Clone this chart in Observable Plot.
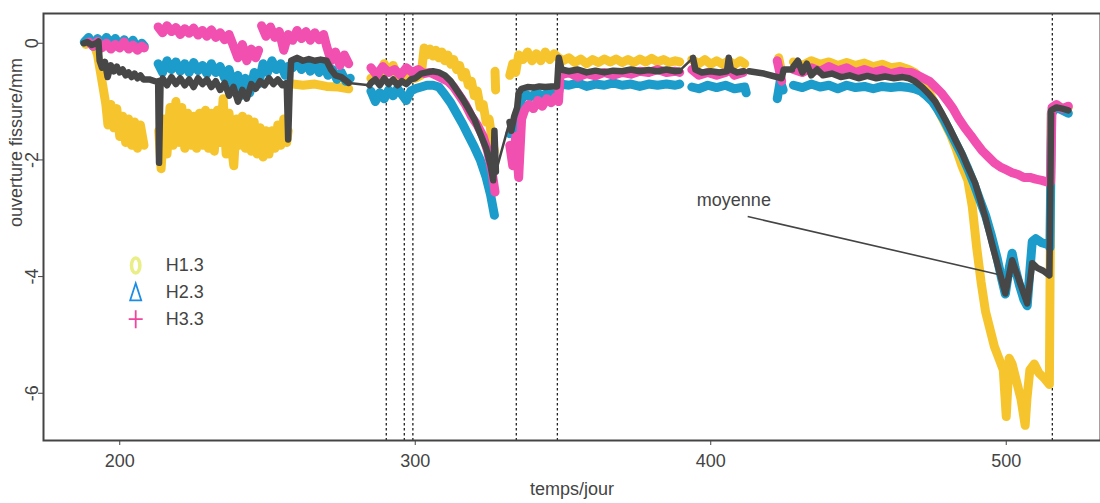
<!DOCTYPE html>
<html>
<head>
<meta charset="utf-8">
<script src="https://cdn.jsdelivr.net/npm/d3@7"></script>
<script src="https://cdn.jsdelivr.net/npm/@observablehq/plot@0.6"></script>
<style>
  html, body { margin: 0; padding: 0; background: #fff; }
  #chart { width: 1100px; height: 503px; }
</style>
</head>
<body>
<div id="chart"></div>
<script>
const G = NaN; // gap marker (breaks a line)

// H1.3 (yellow) : [jour, ouverture/mm]
const h13 = [
  [188.5,-0.02],[190,0.03],[191.5,-0.05],[192.5,-0.2],[193.5,-0.5],[194.5,-0.8],[195.3,-1.05],[196,-1.4],[197,-1.05],[198,-1.45],[199,-1.12],[200,-1.6],[201,-1.25],[202,-1.7],[203,-1.3],[204,-1.75],[205,-1.35],[206,-1.8],[207,-1.4],[208.2,-1.75],[208.5,G],
  [213.2,-1.5],[214,-2.15],[215,-1.3],[216,-1.9],[217,-1.1],[218,-1.75],[219,-1.0],[220,-1.7],[221,-1.1],[222,-1.8],[223,-1.2],[224,-1.75],[225,-1.25],[226,-1.8],[227,-1.2],[228,-1.75],[229,-1.15],[230,-1.8],[231,-1.2],[232,-1.85],[233,-1.15],[234,-1.7],[235,-0.95],[236,-1.9],[237,-1.2],[238,-1.85],[238.6,-2.1],[239.5,-1.3],[240.5,-1.75],[241.5,-1.25],[242.5,-1.8],[243.5,-1.3],[244.5,-1.85],[245.5,-1.35],[246.5,-1.9],[247.5,-1.45],[248.5,-1.95],[249.5,-1.5],[250.5,-1.9],[251.5,-1.5],[252.5,-1.8],[253.5,-1.4],[254.5,-1.75],[255.5,-1.3],[256.5,-1.7],[257,-1.5],[257.5,G],
  [258.5,-0.7],[262,-0.72],[266,-0.7],[270,-0.74],[274,-0.75],[277.5,-0.78],[278,G],
  [285,-0.6],[288,-0.55],[289.5,-0.35],[291,-0.5],[292.5,-0.38],[294,-0.55],[296,-0.6],[298,-0.6],[300,-0.6],[302,-0.55],
  [303,-0.08],[304,-0.2],[305,-0.1],[306,-0.22],[307,-0.12],[308,-0.25],[309,-0.15],[310,-0.3],[311,-0.2],[312,-0.36],[313,-0.28],[314,-0.45],[315,-0.38],[316,-0.58],[317,-0.5],[318,-0.72],[319,-0.65],[320,-0.9],[321,-0.82],[322,-1.1],[323,-1.05],[324,-1.35],[325,-1.3],[326,-1.65],[326.8,-1.85],[326.9,G],
  [327.0,-0.48],[327.2,-0.8],[327.3,G],
  [332,-0.55],[333,-0.35],[334,-0.5],[335,-0.2],[336.5,-0.28],[338,-0.15],[339.5,-0.3],[341,-0.18],[342.5,-0.3],[344,-0.15],[345.5,-0.28],[347,-0.18],[348.5,-0.25],[350,-0.3],[352,-0.25],[354,-0.33],[356,-0.27],[358,-0.35],[360,-0.28],[362,-0.33],[364,-0.27],[366,-0.32],[368,-0.27],[370,-0.33],[372,-0.28],[374,-0.33],[376,-0.27],[378,-0.32],[380,-0.26],[382,-0.32],[384,-0.28],[386,-0.33],[388,-0.3],[389.5,-0.32],[390,G],
  [393.6,-0.28],[396,-0.35],[398,-0.28],[400,-0.36],[402,-0.3],[404,-0.36],[406,-0.3],[408,-0.37],[410,-0.3],[411.5,-0.35],[412,G],
  [423,-0.25],[424,-0.5],[424.5,G],
  [428,-0.32],[431,-0.38],[434,-0.3],[437,-0.36],[440,-0.32],[443,-0.38],[446,-0.33],[449,-0.38],[452,-0.34],[455,-0.4],[458,-0.36],[461,-0.42],[464,-0.4],[467,-0.45],[469,-0.5],[471,-0.6],[473,-0.75],[475,-0.95],[477,-1.15],[479,-1.35],[481,-1.55],[483,-1.8],[485,-2.1],[487,-2.35],[488.5,-2.8],[490,-3.5],[491.5,-4.1],[493,-4.6],[494.5,-4.9],[496,-5.2],[497.5,-5.4],[499,-5.6],[500,-6.4],[500.5,-5.9],[501,-5.4],[502,-5.5],[503.5,-5.8],[505,-6.1],[506.4,-6.55],[507,-6.1],[508,-5.6],[509.5,-5.5],[511,-5.65],[513,-5.75],[514.6,-5.85],[515.2,-1.2],[517,-1.1],[519,-1.12],[521,-1.1]
];

// H2.3 (blue)
const h23 = [
  [188,0.02],[189.5,0.1],[191,-0.05],[192.5,0.08],[194,-0.02],[195.5,0.1],[197,0.0],[198.5,0.08],[200,-0.05],[201.5,0.06],[203,-0.05],[204.5,0.05],[206,-0.1],[207.5,0.0],[208.3,-0.05],[208.5,G],
  [213,-0.35],[214.5,-0.5],[216,-0.3],[217.5,-0.45],[219,-0.32],[220.5,-0.48],[222,-0.35],[223.5,-0.5],[225,-0.33],[226.5,-0.47],[228,-0.38],[229.5,-0.52],[231,-0.35],[232.5,-0.5],[234,-0.4],[235.5,-0.6],[237,-0.45],[238.5,-0.75],[240,-0.55],[241,-0.9],[242.5,-0.6],[244,-0.85],[245.5,-0.5],[247,-0.7],[248.5,-0.35],[250,-0.5],[251.5,-0.3],[253,-0.45],[254.5,-0.35],[256,-0.55],[257,-0.4],[258.5,-0.42],[260,-0.3],[261.5,-0.45],[263,-0.32],[264.5,-0.48],[266,-0.35],[267.5,-0.5],[269,-0.38],[270.5,-0.55],[272,-0.45],[273.5,-0.62],[275,-0.5],[276.5,-0.65],[278,-0.6],[278.5,G],
  [285,-0.82],[286.5,-1.0],[288,-0.85],[289.5,-0.95],[291,-0.8],[292.5,-0.9],[294,-0.78],[295.5,-0.88],[297,-0.98],[298.5,-0.82],[300,-0.78],[302,-0.75],[304,-0.72],[306,-0.72],[308,-0.75],[310,-0.88],[312,-1.02],[314,-1.2],[316,-1.38],[318,-1.58],[320,-1.78],[322,-2.0],[324,-2.3],[325.5,-2.6],[326.8,-2.95],[327,G],
  [332,-1.55],[333.5,-1.45],[335,-1.2],[336,-0.95],[337.5,-0.88],[339,-0.92],[341,-0.85],[343,-0.9],[345,-0.85],[347,-0.88],[348.5,-0.85],[349,-0.7],[352,-0.72],[355,-0.68],[358,-0.74],[361,-0.7],[364,-0.72],[367,-0.68],[370,-0.72],[373,-0.7],[376,-0.74],[379,-0.7],[382,-0.72],[385,-0.7],[388,-0.72],[389.5,-0.7],[390,G],
  [393.6,-0.75],[396,-0.78],[399,-0.72],[402,-0.76],[405,-0.72],[408,-0.78],[411.5,-0.75],[412,-0.85],[412.5,G],
  [422.5,-0.95],[423.5,-0.65],[424.5,-0.8],[425,G],
  [428,-0.72],[431,-0.76],[434,-0.7],[437,-0.75],[440,-0.72],[443,-0.78],[446,-0.72],[449,-0.76],[452,-0.74],[455,-0.78],[458,-0.74],[461,-0.76],[464,-0.74],[467,-0.76],[469,-0.78],[471,-0.82],[473,-0.9],[475,-1.0],[477,-1.15],[479,-1.32],[481,-1.52],[483,-1.72],[485,-1.92],[487,-2.15],[489,-2.4],[491,-2.68],[493,-2.95],[495,-3.3],[497,-3.7],[498.5,-4.05],[499.7,-4.3],[501,-3.85],[502,-3.6],[503,-3.85],[504.5,-4.15],[506,-4.4],[507.1,-4.5],[508,-3.9],[508.8,-3.4],[510,-3.35],[512,-3.42],[514,-3.45],[514.8,-3.5],[515.3,-1.2],[517,-1.1],[519,-1.15],[521,-1.2]
];

// H3.3 (magenta)
const h33 = [
  [189.5,0.02],[191,-0.05],[192.5,0.03],[194,-0.08],[195.5,0.0],[197,-0.1],[198.5,-0.02],[200,-0.08],[201.5,0.02],[203,-0.1],[204.5,-0.03],[206,-0.12],[207.5,-0.05],[208.3,-0.08],[208.5,G],
  [213,0.28],[214.5,0.18],[216,0.3],[217.5,0.2],[219,0.27],[220.5,0.15],[222,0.25],[223.5,0.17],[225,0.26],[226.5,0.14],[228,0.22],[229.5,0.12],[231,0.23],[232.5,0.1],[234,0.18],[235.5,0.06],[237,0.15],[238.5,-0.05],[240,-0.25],[241.5,-0.02],[243,-0.3],[244.5,-0.1],[246,-0.25],[247,-0.12],[247.4,G],
  [248,0.3],[249.5,0.12],[251,0.28],[252.5,0.1],[254,0.2],[255.5,-0.12],[257,0.15],[258.5,0.05],[260,0.22],[261.5,0.08],[263,0.2],[264.5,0.05],[266,0.18],[267.5,0.06],[269,0.15],[270,-0.05],[271.5,-0.3],[273,-0.15],[274.5,-0.38],[276,-0.2],[277.5,-0.35],[278,G],
  [285,-0.42],[287,-0.55],[289,-0.4],[291,-0.5],[293,-0.45],[295,-0.55],[297,-0.42],[299,-0.5],[301,-0.45],[303,-0.52],[305,-0.5],[307,-0.55],[309,-0.6],[311,-0.65],[313,-0.75],[315,-0.9],[317,-1.05],[319,-1.25],[321,-1.4],[323,-1.6],[324.5,-1.85],[326,-2.2],[327,-2.55],[327.5,G],
  [332,-1.75],[333,-2.1],[334,-1.6],[335,-2.3],[336,-1.3],[337,-1.15],[338.5,-1.05],[340,-1.12],[341.5,-0.98],[343,-1.08],[344.5,-0.95],[346,-1.02],[347.5,-0.92],[348.5,-1.0],[349,-0.55],[352,-0.5],[355,-0.58],[358,-0.52],[361,-0.56],[364,-0.5],[367,-0.55],[370,-0.5],[373,-0.53],[376,-0.48],[379,-0.5],[382,-0.45],[385,-0.5],[388,-0.48],[389.5,-0.5],[390,G],
  [393.6,-0.45],[396,-0.55],[399,-0.5],[402,-0.55],[405,-0.5],[406.5,-0.45],[408,-0.55],[411,-0.5],[411.5,G],
  [422.5,-0.3],[424,-0.65],[424.5,G],
  [428,-0.45],[431,-0.5],[434,-0.42],[437,-0.48],[440,-0.4],[443,-0.47],[446,-0.42],[449,-0.5],[452,-0.45],[455,-0.5],[458,-0.46],[461,-0.52],[464,-0.48],[466,-0.5],[468,-0.5],[470,-0.55],[472,-0.6],[474,-0.65],[476,-0.75],[478,-0.85],[480,-0.98],[482,-1.12],[484,-1.3],[486,-1.45],[488,-1.58],[490,-1.72],[492,-1.85],[494,-1.95],[496,-2.05],[498,-2.12],[500,-2.17],[502,-2.22],[504,-2.25],[506,-2.3],[508,-2.3],[510,-2.33],[512,-2.35],[514,-2.38],[515,-2.38],[515.5,-1.1],[517,-1.05],[519,-1.12],[521,-1.08]
];

// moyenne (dark grey)
const moyenne = [
  [187.8,0.0],[189,0.02],[190.5,-0.03],[192,0.0],[192.8,0.03],[193.2,-0.3],[194,-0.42],[195,-0.32],[195.9,-0.58],[197,-0.38],[198,-0.48],[199,-0.4],[200,-0.5],[201,-0.45],[202,-0.55],[203,-0.5],[204,-0.58],[205,-0.52],[206,-0.6],[207,-0.55],[208,-0.62],[210,-0.62],[212.5,-0.66],
  [213,-0.65],[213.3,-2.05],[213.8,-0.7],[214.5,-0.6],[216,-0.72],[217.5,-0.58],[219,-0.7],[220.5,-0.6],[222,-0.72],[223.5,-0.62],[225,-0.75],[226.5,-0.6],[228,-0.7],[229.5,-0.62],[231,-0.75],[232.5,-0.65],[234,-0.8],[235.5,-0.68],[237,-0.9],[238.5,-0.75],[240,-1.0],[241.5,-0.8],[243,-0.95],[244.5,-0.7],[246,-0.78],[247.5,-0.65],[249,-0.72],[250.5,-0.6],[252,-0.7],[253.5,-0.62],[255,-0.72],[256.5,-0.68],[257,-1.65],[257.5,-0.8],[258,-0.3],[260,-0.25],[262,-0.3],[264,-0.27],[266,-0.3],[268,-0.28],[270,-0.3],[271.5,-0.45],[273,-0.55],[275,-0.58],[277.5,-0.68],[278,G],
  [284.5,-0.72],[285,-0.68],[286.5,-0.62],[288,-0.72],[289.5,-0.6],[291,-0.7],[292.5,-0.62],[294,-0.72],[295.5,-0.65],[297,-0.7],[298.5,-0.62],[300,-0.6],[302,-0.52],[304,-0.5],[306,-0.48],[308,-0.5],[310,-0.55],[312,-0.65],[314,-0.8],[316,-0.95],[318,-1.12],[320,-1.3],[322,-1.55],[324,-1.8],[325.5,-2.1],[326.4,-2.35],[326.8,-1.5],[327.3,-2.2],[327.6,G],
  [331.9,-1.35],[332.5,-1.5],[333.5,-1.25],[334.5,-1.1],[335,-0.85],[336,-0.78],[338,-0.75],[340,-0.76],[342,-0.74],[344,-0.75],[346,-0.74],[348,-0.74],[348.5,-0.3],[348.6,-0.25],[349.5,-0.45],[352,-0.48],[355,-0.45],[358,-0.5],[361,-0.47],[364,-0.5],[367,-0.47],[370,-0.48],[373,-0.45],[376,-0.48],[379,-0.46],[382,-0.48],[385,-0.45],[388,-0.48],[389.5,-0.47],[390,G],
  [394,-0.25],[394.8,-0.45],[397,-0.5],[400,-0.48],[403,-0.5],[405.5,-0.48],[406.1,-0.25],[406.8,-0.45],[409,-0.5],[411.2,-0.48],[411.6,G],
  [413,-0.48],[418,-0.52],[424,-0.6],[424.7,-0.45],[427.5,-0.45],[427.8,G],
  [428,-0.4],[429.5,-0.3],[431,-0.5],[432.5,-0.35],[434,-0.55],[436,-0.45],[438,-0.55],[441,-0.52],[444,-0.58],[447,-0.55],[450,-0.6],[453,-0.56],[456,-0.6],[459,-0.57],[462,-0.6],[465,-0.58],[467,-0.6],[469,-0.65],[471.5,-0.75],[474,-0.88],[476,-1.0],[478,-1.18],[480.7,-1.44],[483,-1.68],[485.1,-1.89],[487,-2.12],[489.5,-2.4],[491,-2.65],[492.9,-2.98],[495.3,-3.46],[497.6,-3.9],[499.7,-4.29],[502,-3.72],[504.4,-4.07],[507.1,-4.46],[508.8,-3.77],[510.5,-3.85],[512.5,-3.9],[514.6,-3.98],[515.2,-1.15],[517,-1.1],[519,-1.12],[521,-1.15]
];

// dashed event lines (jour)
const evenements = [290.2, 296.3, 299.2, 334.2, 348.1, 515.6];

const xTicks = [200, 300, 400, 500];
const yTicks = [0, -2, -4, -6];

const series = [
  {name: "H1.3", data: h13, color: "#f6c52e", legendColor: "#e9ee86"},
  {name: "H2.3", data: h23, color: "#1c9cca", legendColor: "#1b8de6"},
  {name: "H3.3", data: h33, color: "#f250b0", legendColor: "#f0449e"},
];

// annotation "moyenne"
const annotationText = [{x: 395.3, y: -2.69, label: "moyenne"}];
const annotationLink = [{x1: 412.5, y1: -2.97, x2: 497, y2: -3.96}];

// legend
const legendX = 205.4, legendTextX = 215.6, legendY0 = -3.81, legendStep = 0.46;
const legendItems = series.map((s, i) => ({name: s.name, color: s.legendColor, i, y: legendY0 - i * legendStep}));

const ellipse = {draw(ctx, size) {
  const rx = 4.2, ry = 7.5, k = 0.5523;
  ctx.moveTo(0, -ry);
  ctx.bezierCurveTo(rx * k, -ry, rx, -ry * k, rx, 0);
  ctx.bezierCurveTo(rx, ry * k, rx * k, ry, 0, ry);
  ctx.bezierCurveTo(-rx * k, ry, -rx, ry * k, -rx, 0);
  ctx.bezierCurveTo(-rx, -ry * k, -rx * k, -ry, 0, -ry);
  ctx.closePath();
}};
const tallTriangle = {draw(ctx, size) {
  ctx.moveTo(0, -9); ctx.lineTo(5.5, 8); ctx.lineTo(-5.5, 8); ctx.closePath();
}};
const plusSym = {draw(ctx, size) {
  ctx.moveTo(0, -9); ctx.lineTo(0, 9); ctx.moveTo(-7, 0); ctx.lineTo(7, 0);
}};
const symbols = [ellipse, tallTriangle, plusSym];

const finite = d => Number.isFinite(d[1]);

const chart = Plot.plot({
  width: 1100,
  height: 503,
  marginLeft: 43,
  marginRight: 0,
  marginTop: 13,
  marginBottom: 63,
  style: {fontFamily: "'Liberation Sans', Arial, sans-serif", fontSize: "18px", color: "#444", background: "#fff"},
  x: {domain: [174.2, 531.9]},
  y: {domain: [-6.81, 0.51]},
  marks: [
    Plot.ruleX(evenements, {stroke: "#222", strokeWidth: 1.3, strokeDasharray: "2.5,2.5"}),
    ...series.map(s => Plot.line(s.data, {x: d => d[0], y: d => d[1], stroke: s.color, strokeWidth: 9, strokeLinejoin: "round", strokeLinecap: "round"})),
    Plot.line(moyenne.filter(finite), {x: d => d[0], y: d => d[1], stroke: "#444", strokeWidth: 2.5, strokeLinejoin: "round"}),
    Plot.line(moyenne, {x: d => d[0], y: d => d[1], stroke: "#474747", strokeWidth: 6.5, strokeLinejoin: "round", strokeLinecap: "round"}),
    Plot.link(annotationLink, {x1: "x1", y1: "y1", x2: "x2", y2: "y2", stroke: "#444", strokeWidth: 1.6}),
    Plot.text(annotationText, {x: "x", y: "y", text: "label", textAnchor: "start", fill: "#444", fontSize: 18}),
    ...legendItems.map(it => Plot.dot([it], {x: () => legendX, y: "y", symbol: () => symbols[it.i], r: 5, fill: "none", stroke: it.color, strokeWidth: it.i === 0 ? 3.5 : 1.8})),
    Plot.text(legendItems, {x: () => legendTextX, y: "y", text: "name", textAnchor: "start", fill: "#444", fontSize: 18}),
    Plot.axisX({ticks: xTicks, tickSize: 5, tickPadding: 9, tickFormat: d => String(d), label: null, stroke: "#444", fill: "#444"}),
    Plot.axisY({ticks: yTicks, tickSize: 5, tickRotate: -90, tickPadding: 1, tickFormat: d => String(d), label: null, stroke: "#444", fill: "#444"}),
    Plot.text(["ouverture fissure/mm"], {frameAnchor: "left", dx: -27, rotate: -90, text: d => d, fill: "#444", fontSize: 18}),
    Plot.text(["temps/jour"], {frameAnchor: "bottom", dy: 54, text: d => d, fill: "#444", fontSize: 18}),
    Plot.frame({stroke: "#444", strokeWidth: 2})
  ]
});
document.getElementById("chart").appendChild(chart);
</script>
</body>
</html>
